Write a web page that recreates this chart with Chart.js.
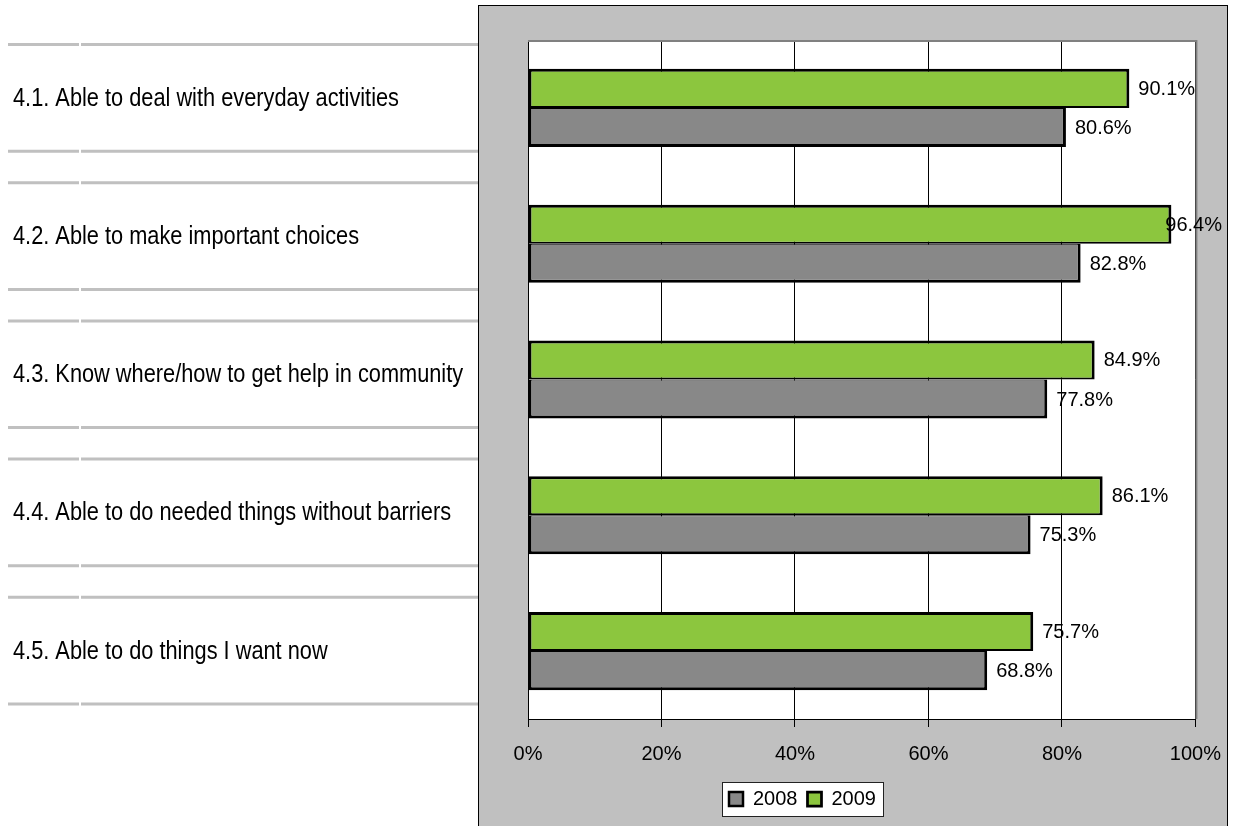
<!DOCTYPE html>
<html>
<head>
<meta charset="utf-8">
<script src="https://cdn.jsdelivr.net/npm/chart.js@4/dist/chart.umd.min.js"></script>
<style>
  body { margin: 0; background: #fff; }
  #wrap { width: 1236px; height: 826px; }
</style>
</head>
<body>
<div id="wrap"><canvas id="chart1" width="1236" height="826"></canvas></div>
<script>
// values
const categories = [
  "4.1. Able to deal with everyday activities",
  "4.2. Able to make important choices",
  "4.3. Know where/how to get help in community",
  "4.4. Able to do needed things without barriers",
  "4.5. Able to do things I want now"
];
const values2008 = [80.6, 82.8, 77.8, 75.3, 68.8];
const values2009 = [90.1, 96.4, 84.9, 86.1, 75.7];
const xTicks = [0, 20, 40, 60, 80, 100];

const GREEN = "#8cc63e";
const GREY = "#888888";
const PANEL = "#c0c0c0";
const FONT = "'Liberation Sans', Arial, sans-serif";

// grey frame, left label table, white plot area
Chart.register({
  id: "frame",
  afterLayout: function (chart) {
    // move the legend to where the original sits
    const lg = chart.legend;
    const dx = 719 - lg.left;
    lg.left += dx;
    lg.right += dx;
    lg.legendHitBoxes.forEach(b => { b.left += dx; });
  },
  beforeDraw: function (chart) {
    const ctx = chart.ctx;
    const area = chart.chartArea;
    ctx.save();

    // table on the left (narrow text, squeezed by hand since no narrow font)
    ctx.strokeStyle = PANEL;
    ctx.lineWidth = 3;
    ctx.font = "25px " + FONT;
    ctx.fillStyle = "#000";
    ctx.textAlign = "left";
    ctx.textBaseline = "middle";
    const sx = 386 / ctx.measureText(categories[0]).width;
    categories.forEach(function (label, i) {
      const top = 44.5 + i * 138.2;
      const bottom = top + 106.7;
      [top, bottom].forEach(function (y) {
        ctx.beginPath();
        ctx.moveTo(8, y); ctx.lineTo(79, y);
        ctx.moveTo(81, y); ctx.lineTo(478, y);
        ctx.stroke();
      });
      ctx.save();
      ctx.translate(13, (top + bottom) / 2 + 1);
      ctx.scale(sx, 1);
      ctx.fillText(label, 0, 0);
      ctx.restore();
    });

    // grey panel
    ctx.fillStyle = PANEL;
    ctx.fillRect(478, 6, 750, 830);
    ctx.strokeStyle = "#000";
    ctx.lineWidth = 1;
    ctx.strokeRect(478.5, 5.5, 749, 830);

    // legend box
    const boxes = chart.legend.legendHitBoxes;
    if (boxes && boxes.length) {
      const l = Math.min.apply(null, boxes.map(b => b.left)) - 7;
      const r = Math.max.apply(null, boxes.map(b => b.left + b.width)) + 7;
      const cy = boxes[0].top + boxes[0].height / 2;
      ctx.fillStyle = "#fff";
      ctx.fillRect(l, cy - 17, r - l, 34);
      ctx.strokeStyle = "#222";
      ctx.strokeRect(Math.round(l) + 0.5, Math.round(cy - 17) + 0.5, Math.round(r - l), 34);
    }

    // plot area
    ctx.fillStyle = "#fff";
    ctx.fillRect(area.left, area.top, area.right - area.left, area.bottom - area.top);
    ctx.restore();
  },
  beforeDatasetsDraw: function (chart) {
    const ctx = chart.ctx;
    const area = chart.chartArea;
    ctx.save();
    ctx.strokeStyle = "#808080";
    ctx.lineWidth = 2;
    ctx.beginPath();
    ctx.moveTo(area.left, area.top + 1);
    ctx.lineTo(area.right + 1, area.top + 1);
    ctx.lineTo(area.right + 1, area.bottom);
    ctx.stroke();
    ctx.restore();
  }
});

// value labels at the end of each bar
Chart.register({
  id: "barValues",
  afterDatasetsDraw: function (chart) {
    const ctx = chart.ctx;
    ctx.save();
    ctx.font = "20px " + FONT;
    ctx.fillStyle = "#000";
    ctx.textAlign = "left";
    ctx.textBaseline = "middle";
    chart.data.datasets.forEach(function (ds, di) {
      chart.getDatasetMeta(di).data.forEach(function (bar, i) {
        const text = ds.data[i].toFixed(1) + "%";
        const w = ctx.measureText(text).width;
        const x = Math.min(bar.x + 9, chart.width - 14 - w);
        ctx.fillText(text, x, bar.y + 1);
      });
    });
    ctx.restore();
  }
});

const data = {
  labels: categories,
  datasets: [
    {
      label: "2009",
      data: values2009,
      backgroundColor: GREEN,
      borderColor: "#000",
      borderWidth: { top: 3, right: 3, bottom: 2, left: 3 },
      borderSkipped: false
    },
    {
      label: "2008",
      data: values2008,
      backgroundColor: GREY,
      borderColor: "#000",
      borderWidth: { top: 1, right: 3, bottom: 3, left: 3 },
      borderSkipped: false
    }
  ]
};

const options = {
  indexAxis: "y",
  responsive: false,
  animation: false,
  layout: { padding: { left: 528, top: 40, right: 39, bottom: 7 } },
  datasets: { bar: { categoryPercentage: 0.575, barPercentage: 1.0 } },
  scales: {
    x: {
      min: 0,
      max: 100,
      afterBuildTicks: function (scale) {
        scale.ticks = xTicks.map(v => ({ value: v }));
      },
      afterFit: function (scale) { scale.height = 60; },
      grid: { color: "#000", lineWidth: 1, tickLength: 8, drawTicks: true },
      border: { color: "#000", width: 1 },
      ticks: {
        color: "#000",
        padding: 15,
        font: { family: FONT, size: 20 },
        callback: v => v + "%"
      }
    },
    y: {
      afterFit: function (scale) { scale.width = 0; },
      ticks: { display: false },
      grid: { display: false },
      border: { color: "#000", width: 1 }
    }
  },
  plugins: {
    legend: {
      position: "bottom",
      align: "start",
      reverse: true,
      labels: {
        color: "#000",
        boxWidth: 14,
        boxHeight: 14,
        padding: 10,
        font: { family: FONT, size: 20 }
      }
    },
    tooltip: { enabled: false }
  }
};

new Chart(document.getElementById("chart1"), {
  type: "bar",
  data: data,
  options: options
});
</script>
</body>
</html>
